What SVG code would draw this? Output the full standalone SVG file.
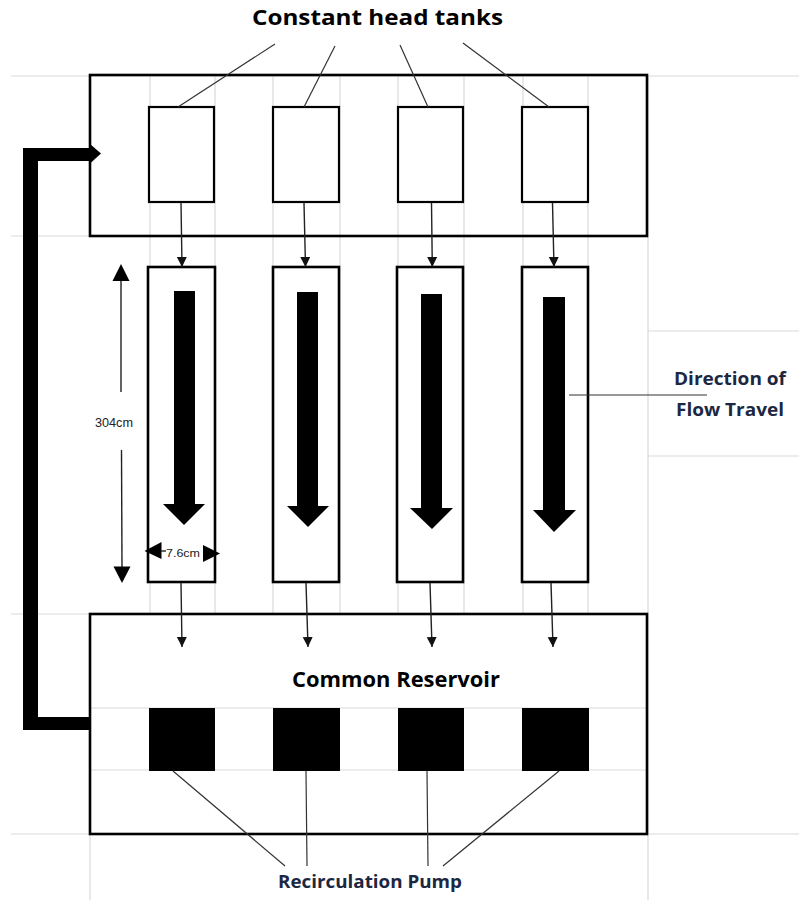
<svg xmlns="http://www.w3.org/2000/svg" width="799" height="900" viewBox="0 0 799 900">
<defs>
<style>
.grid{stroke:#d9d9d9;stroke-width:1.2;fill:none}
.box{fill:none;stroke:#000;stroke-width:2.6}
.flume{fill:#fff;stroke:#000;stroke-width:2.6}
.tank{fill:#fff;stroke:#000;stroke-width:2.2}
.pump{fill:#000}
.conn{stroke:#222;stroke-width:1.4;fill:none}
.lead{stroke:#333;stroke-width:1.2;fill:none}
.big{fill:#000}
.title{font-family:"Open Sans","Noto Sans",sans-serif;font-weight:700;fill:#000}
.navy{font-family:"Open Sans","Noto Sans",sans-serif;font-weight:700;fill:#1c2741}
.dim{font-family:"Liberation Sans",Arial,sans-serif;fill:#222}
</style>
<marker id="ah" markerUnits="userSpaceOnUse" markerWidth="12" markerHeight="12" refX="10" refY="5" orient="auto">
<path d="M0,0 L10,5 L0,10 Z" fill="#111"/>
</marker>
</defs>
<rect width="799" height="900" fill="#fff"/>
<g id="grid" class="grid">
<line x1="11" y1="76" x2="799" y2="76"/>
<line x1="11" y1="236" x2="648" y2="236"/>
<line x1="648" y1="331" x2="799" y2="331"/>
<line x1="648" y1="456" x2="799" y2="456"/>
<line x1="11" y1="614" x2="648" y2="614"/>
<line x1="90" y1="708" x2="648" y2="708"/>
<line x1="90" y1="770" x2="648" y2="770"/>
<line x1="11" y1="834" x2="799" y2="834"/>
<line x1="648" y1="76" x2="648" y2="900"/>
<line x1="90" y1="834" x2="90" y2="900"/>
<line x1="150" y1="76" x2="150" y2="614"/>
<line x1="215" y1="76" x2="215" y2="614"/>
<line x1="273" y1="76" x2="273" y2="614"/>
<line x1="340" y1="76" x2="340" y2="614"/>
<line x1="398" y1="76" x2="398" y2="614"/>
<line x1="464" y1="76" x2="464" y2="614"/>
<line x1="523" y1="76" x2="523" y2="614"/>
<line x1="588" y1="76" x2="588" y2="614"/>
</g>
<g id="headbox"><rect class="box" x="90" y="75" width="557" height="161"/></g>
<g id="reservoir"><rect class="box" x="90" y="614" width="557" height="220"/>
<text class="title" x="396" y="687" font-size="21" text-anchor="middle" textLength="208" lengthAdjust="spacingAndGlyphs">Common Reservoir</text></g>
<g id="tank1"><rect class="tank" x="149" y="107" width="65" height="95"/></g>
<g id="tank2"><rect class="tank" x="273" y="107" width="66" height="95"/></g>
<g id="tank3"><rect class="tank" x="398" y="107" width="65" height="95"/></g>
<g id="tank4"><rect class="tank" x="522" y="107" width="66" height="95"/></g>
<g id="flume1"><rect class="flume" x="148" y="267" width="67" height="315"/><polygon class="big" points="174,291 195,291 195,504 205,504 184,525 163,504 174,504"/></g>
<g id="flume2"><rect class="flume" x="273" y="267" width="66" height="315"/><polygon class="big" points="297,292 318,292 318,506 329,506 308,527 287,506 297,506"/></g>
<g id="flume3"><rect class="flume" x="397" y="267" width="66" height="315"/><polygon class="big" points="421,294 442,294 442,508 453,508 432,529 410,508 421,508"/></g>
<g id="flume4"><rect class="flume" x="522" y="267" width="66" height="315"/><polygon class="big" points="543,297 565,297 565,510 576,510 554,532 533,510 543,510"/></g>
<g id="pump1"><rect class="pump" x="149" y="708" width="66" height="63"/></g>
<g id="pump2"><rect class="pump" x="273" y="708" width="67" height="63"/></g>
<g id="pump3"><rect class="pump" x="398" y="708" width="66" height="63"/></g>
<g id="pump4"><rect class="pump" x="522" y="708" width="67" height="63"/></g>
<g id="connectors">
<line class="conn" x1="181" y1="203" x2="182" y2="267" marker-end="url(#ah)"/>
<line class="conn" x1="304" y1="203" x2="305.5" y2="267" marker-end="url(#ah)"/>
<line class="conn" x1="431.5" y1="203" x2="432.3" y2="267" marker-end="url(#ah)"/>
<line class="conn" x1="552.5" y1="203" x2="554" y2="267" marker-end="url(#ah)"/>
<line class="conn" x1="181" y1="583" x2="182" y2="647" marker-end="url(#ah)"/>
<line class="conn" x1="306" y1="583" x2="308" y2="647" marker-end="url(#ah)"/>
<line class="conn" x1="430" y1="583" x2="432" y2="647" marker-end="url(#ah)"/>
<line class="conn" x1="551" y1="583" x2="553" y2="647" marker-end="url(#ah)"/>
<path d="M90,148 L23,148 L23,730 L90,730 L90,717 L38,717 L38,161 L90,161 Z" fill="#000"/>
<polygon points="90,144 101,153.5 90,163.5" fill="#000"/>
</g>
<g id="label-tanks">
<text class="title" x="252" y="25" font-size="21" textLength="251" lengthAdjust="spacingAndGlyphs">Constant head tanks</text>
<line class="lead" x1="275" y1="44" x2="178" y2="107"/>
<line class="lead" x1="335" y1="46" x2="304" y2="107"/>
<line class="lead" x1="400" y1="45" x2="428" y2="107"/>
<line class="lead" x1="463" y1="43" x2="549" y2="107"/>
</g>
<g id="label-flow">
<text class="navy" x="674" y="385" font-size="18.5" textLength="112" lengthAdjust="spacingAndGlyphs">Direction of</text>
<text class="navy" x="676" y="415.5" font-size="18.5" textLength="108" lengthAdjust="spacingAndGlyphs">Flow Travel</text>
<line class="lead" x1="569" y1="395" x2="707" y2="395" stroke-width="1.5"/>
</g>
<g id="label-pump">
<text class="navy" x="278" y="888" font-size="18.5" textLength="184" lengthAdjust="spacingAndGlyphs">Recirculation Pump</text>
<line class="lead" x1="173" y1="771" x2="285" y2="866"/>
<line class="lead" x1="306" y1="771" x2="307" y2="866"/>
<line class="lead" x1="427" y1="771" x2="428" y2="866"/>
<line class="lead" x1="559" y1="771" x2="443" y2="866"/>
</g>
<g id="dim-length">
<line class="conn" x1="121" y1="278" x2="121" y2="392" stroke-width="1.3"/>
<line class="conn" x1="121.5" y1="450" x2="122" y2="568" stroke-width="1.3"/>
<polygon points="121,264 112.5,281 129.5,281" fill="#000"/>
<polygon points="122,583 113.5,566.5 130.5,566.5" fill="#000"/>
<text class="dim" x="95" y="426.5" font-size="12" textLength="38" lengthAdjust="spacingAndGlyphs">304cm</text>
</g>
<g id="dim-width">
<polygon points="144.5,551 161.5,542 161.5,559" fill="#000"/>
<polygon points="220,553.5 203,545 203,562" fill="#000"/>
<line class="conn" x1="161" y1="551" x2="166" y2="551" stroke-width="1.2"/>
<text class="dim" x="166" y="556.5" font-size="11.5" textLength="34" lengthAdjust="spacingAndGlyphs">7.6cm</text>
</g>
</svg>
